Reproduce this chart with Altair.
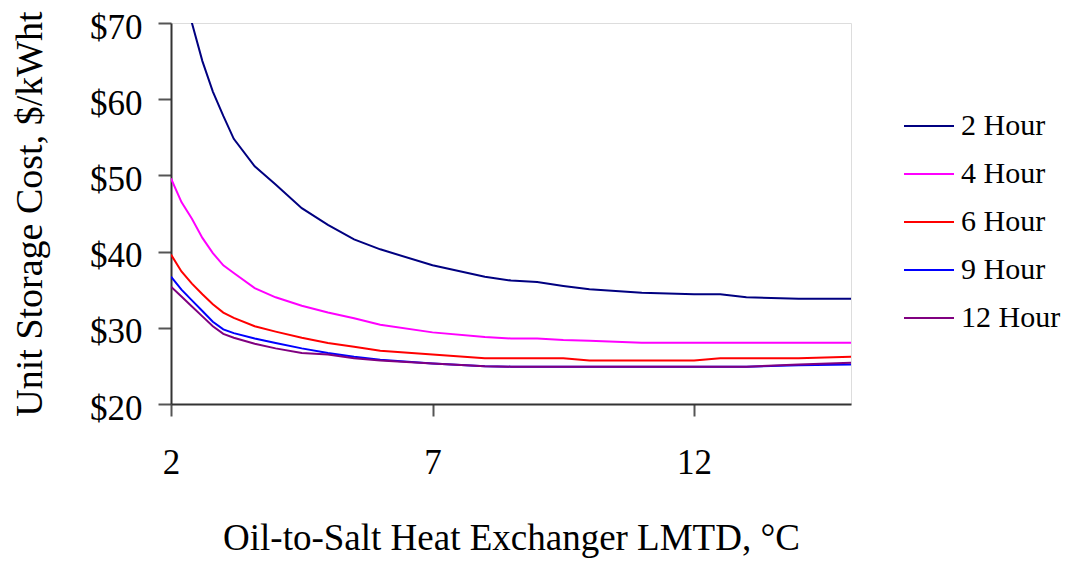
import altair as alt
import pandas as pd

lmtd = [2.0, 2.2, 2.4, 2.6, 2.8, 3.0, 3.2, 3.6, 4.0, 4.5, 5.0, 5.5, 6.0, 7.0, 8.0, 8.5, 9.0, 9.5, 10.0, 11.0, 12.0, 12.5, 13.0, 14.0, 15.0]

cost_2h = [84.0, 75.5, 70.0, 65.0, 61.0, 57.8, 54.8, 51.2, 48.8, 45.7, 43.5, 41.6, 40.3, 38.2, 36.7, 36.2, 36.0, 35.5, 35.05, 34.6, 34.4, 34.4, 34.0, 33.8, 33.8]
cost_4h = [49.6, 46.5, 44.3, 41.8, 39.8, 38.2, 37.2, 35.2, 34.0, 32.9, 32.0, 31.25, 30.4, 29.4, 28.8, 28.6, 28.6, 28.4, 28.3, 28.05, 28.05, 28.05, 28.05, 28.05, 28.05]
cost_6h = [39.6, 37.4, 35.8, 34.4, 33.1, 32.0, 31.3, 30.2, 29.5, 28.7, 28.0, 27.5, 27.0, 26.5, 26.0, 26.0, 26.0, 26.0, 25.7, 25.7, 25.7, 26.0, 26.0, 26.0, 26.2]
cost_9h = [36.7, 35.0, 33.6, 32.2, 30.8, 29.8, 29.3, 28.6, 28.0, 27.3, 26.7, 26.2, 25.8, 25.3, 24.95, 24.9, 24.9, 24.9, 24.9, 24.9, 24.9, 24.9, 24.9, 25.1, 25.2]
cost_12h = [35.4, 34.1, 32.8, 31.5, 30.2, 29.2, 28.7, 27.9, 27.3, 26.7, 26.5, 26.0, 25.7, 25.3, 24.95, 24.9, 24.9, 24.9, 24.9, 24.9, 24.9, 24.9, 24.9, 25.2, 25.4]

series_names = ["2 Hour", "4 Hour", "6 Hour", "9 Hour", "12 Hour"]
series_colors = ["#000080", "#FF00FF", "#FF0000", "#0000FF", "#800080"]
y_ticks = [20, 30, 40, 50, 60, 70]
x_ticks = [2, 7, 12]

rows = []
for name, vals in zip(series_names, [cost_2h, cost_4h, cost_6h, cost_9h, cost_12h]):
    for x, v in zip(lmtd, vals):
        rows.append({"LMTD": x, "Cost": v, "Series": name})
df = pd.DataFrame(rows)

FONT = "Liberation Serif"

chart = alt.Chart(df).mark_line(strokeWidth=2, clip=True).encode(
    x=alt.X("LMTD:Q",
            scale=alt.Scale(domain=[2, 15], nice=False, zero=False),
            axis=alt.Axis(values=x_ticks, title="Oil-to-Salt Heat Exchanger LMTD, °C",
                          grid=False, tickSize=12, labelPadding=29, titlePadding=40,
                          labelFlush=False, labelOverlap=False,
                          labelFontSize=35, titleFontSize=37, labelFont=FONT, titleFont=FONT,
                          titleFontWeight="normal", labelColor="#000000", titleColor="#000000",
                          domainColor="#333333", domainWidth=2, tickColor="#555555", tickWidth=2)),
    y=alt.Y("Cost:Q",
            scale=alt.Scale(domain=[20, 70], nice=False, zero=False),
            axis=alt.Axis(values=y_ticks, labelExpr="'$' + datum.value", title="Unit Storage Cost, $/kWht",
                          grid=False, tickSize=13, labelPadding=16, titlePadding=40,
                          labelFlush=False, labelOverlap=False, labelOffset=4,
                          labelFontSize=35, titleFontSize=38, labelFont=FONT, titleFont=FONT,
                          titleFontWeight="normal", labelColor="#000000", titleColor="#000000",
                          domainColor="#333333", domainWidth=2, tickColor="#555555", tickWidth=2)),
    color=alt.Color("Series:N",
                    scale=alt.Scale(domain=series_names, range=series_colors),
                    sort=series_names,
                    legend=alt.Legend(title=None, orient="none", legendX=732, legendY=79,
                                      symbolType="stroke", symbolSize=2500, symbolStrokeWidth=2,
                                      labelFontSize=30, labelFont=FONT, labelColor="#000000",
                                      rowPadding=0, labelOffset=6, clipHeight=48)),
).properties(
    width=680, height=381,
    autosize=alt.AutoSizeParams(type="none"),
    padding={"left": 163, "top": 15, "right": 211, "bottom": 154},
).configure_view(
    stroke="#808080", strokeWidth=2
).configure(background="#ffffff")

chart.save("out.html", embed_options={"renderer": "svg", "actions": False})
